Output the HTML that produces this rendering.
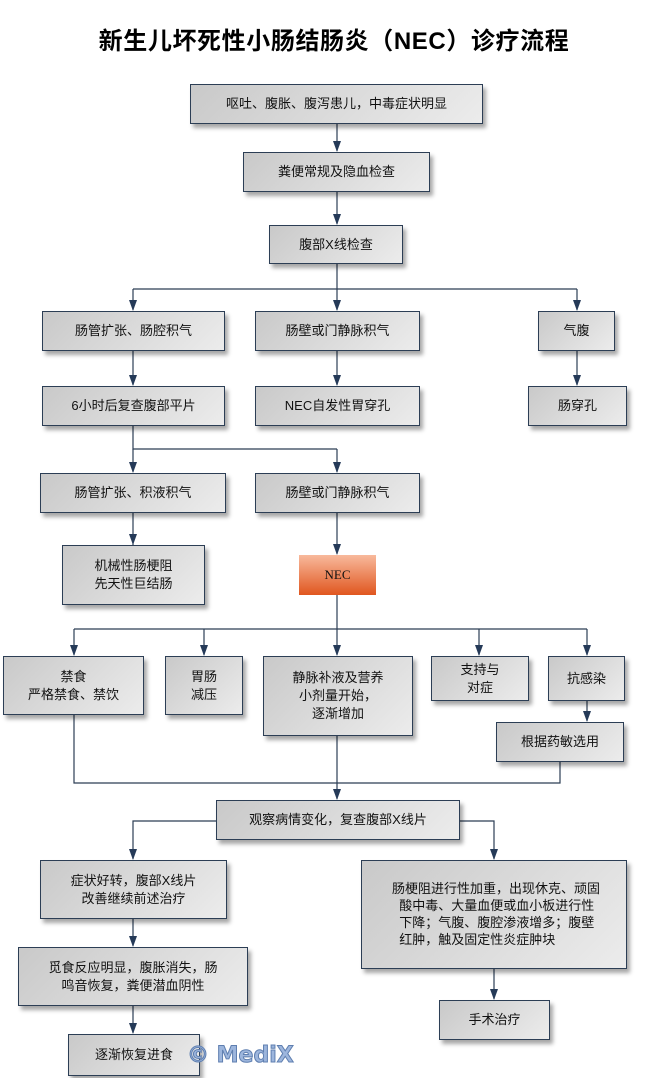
<!DOCTYPE html>
<html><head><meta charset="utf-8"><style>
body{margin:0;background:#fff;}
#c{position:relative;width:656px;height:1078px;overflow:hidden;font-family:"Liberation Sans","Noto Sans CJK SC","WenQuanYi Zen Hei",sans-serif;}
.b{position:absolute;box-sizing:border-box;border:1.5px solid #2c3e55;background:linear-gradient(135deg,#c9c9c9,#ececec);box-shadow:3px 4px 4px rgba(0,0,0,0.35);display:flex;align-items:center;justify-content:center;text-align:center;font-size:13px;line-height:18px;color:#111;}
.nec{border:none;background:linear-gradient(180deg,#f8b99c,#e0561f);box-shadow:none;font-family:"Liberation Serif",serif;}
h1{position:absolute;left:0;width:668px;top:21px;margin:0;text-align:center;font-size:24px;font-weight:bold;letter-spacing:0.6px;}
svg{position:absolute;left:0;top:0;}
#wm{position:absolute;left:187px;top:1043px;font-size:22px;font-weight:bold;color:#9db6dd;-webkit-text-stroke:1px #5f7fb0;font-family:"DejaVu Sans",sans-serif;}
</style></head><body><div id="c">
<h1>新生儿坏死性小肠结肠炎（NEC）诊疗流程</h1>
<svg width="656" height="1078">
<g stroke="#2c3e55" stroke-width="1.2" fill="none">
<path d="M337,124 V151"/>
<path d="M337,192 V224"/>
<path d="M337,264 V289"/>
<path d="M133,289 H577"/>
<path d="M133,289 V310"/>
<path d="M337,289 V310"/>
<path d="M577,289 V310"/>
<path d="M133,351 V385"/>
<path d="M337,351 V385"/>
<path d="M577,351 V385"/>
<path d="M133,426 V449 H337"/>
<path d="M133,449 V472"/>
<path d="M337,449 V472"/>
<path d="M133,513 V545"/>
<path d="M337,513 V554"/>
<path d="M337,595 V629"/>
<path d="M74,629 H587"/>
<path d="M74,629 V655"/>
<path d="M204,629 V655"/>
<path d="M337,629 V655"/>
<path d="M479,629 V655"/>
<path d="M587,629 V655"/>
<path d="M587,701 V721"/>
<path d="M74,715 V783 H560 V762"/>
<path d="M337,736 V799"/>
<path d="M216,821 H133 V859"/>
<path d="M460,821 H494 V859"/>
<path d="M133,919 V946"/>
<path d="M133,1006 V1033"/>
<path d="M494,969 V999"/>
</g>
<g fill="#253a58">
<polygon points="333,141 341,141 337,152"/>
<polygon points="333,214 341,214 337,225"/>
<polygon points="129,300 137,300 133,311"/>
<polygon points="333,300 341,300 337,311"/>
<polygon points="573,300 581,300 577,311"/>
<polygon points="129,375 137,375 133,386"/>
<polygon points="333,375 341,375 337,386"/>
<polygon points="573,375 581,375 577,386"/>
<polygon points="129,462 137,462 133,473"/>
<polygon points="333,462 341,462 337,473"/>
<polygon points="129,534 137,534 133,545"/>
<polygon points="333,544 341,544 337,555"/>
<polygon points="70,645 78,645 74,656"/>
<polygon points="200,645 208,645 204,656"/>
<polygon points="333,645 341,645 337,656"/>
<polygon points="475,645 483,645 479,656"/>
<polygon points="583,645 591,645 587,656"/>
<polygon points="583,711 591,711 587,722"/>
<polygon points="333,789 341,789 337,800"/>
<polygon points="129,849 137,849 133,860"/>
<polygon points="490,849 498,849 494,860"/>
<polygon points="129,936 137,936 133,947"/>
<polygon points="129,1023 137,1023 133,1034"/>
<polygon points="490,989 498,989 494,1000"/>
</g></svg>
<div class="b" style="left:190px;top:84px;width:293px;height:40px">呕吐、腹胀、腹泻患儿，中毒症状明显</div>
<div class="b" style="left:243px;top:152px;width:187px;height:40px">粪便常规及隐血检查</div>
<div class="b" style="left:269px;top:225px;width:134px;height:39px">腹部X线检查</div>
<div class="b" style="left:42px;top:311px;width:183px;height:40px">肠管扩张、肠腔积气</div>
<div class="b" style="left:255px;top:311px;width:165px;height:40px">肠壁或门静脉积气</div>
<div class="b" style="left:538px;top:311px;width:77px;height:40px">气腹</div>
<div class="b" style="left:42px;top:386px;width:183px;height:40px">6小时后复查腹部平片</div>
<div class="b" style="left:255px;top:386px;width:165px;height:40px">NEC自发性胃穿孔</div>
<div class="b" style="left:528px;top:386px;width:99px;height:40px">肠穿孔</div>
<div class="b" style="left:40px;top:473px;width:186px;height:40px">肠管扩张、积液积气</div>
<div class="b" style="left:255px;top:473px;width:165px;height:40px">肠壁或门静脉积气</div>
<div class="b" style="left:62px;top:545px;width:143px;height:60px">机械性肠梗阻<br>先天性巨结肠</div>
<div class="b nec" style="left:299px;top:555px;width:77px;height:40px">NEC</div>
<div class="b" style="left:3px;top:656px;width:141px;height:59px">禁食<br>严格禁食、禁饮</div>
<div class="b" style="left:165px;top:656px;width:78px;height:59px">胃肠<br>减压</div>
<div class="b" style="left:263px;top:656px;width:150px;height:80px">静脉补液及营养<br>小剂量开始，<br>逐渐增加</div>
<div class="b" style="left:431px;top:656px;width:98px;height:45px">支持与<br>对症</div>
<div class="b" style="left:548px;top:656px;width:77px;height:45px">抗感染</div>
<div class="b" style="left:496px;top:722px;width:128px;height:40px">根据药敏选用</div>
<div class="b" style="left:216px;top:800px;width:244px;height:40px">观察病情变化，复查腹部X线片</div>
<div class="b" style="left:40px;top:860px;width:187px;height:59px">症状好转，腹部X线片<br>改善继续前述治疗</div>
<div class="b" style="left:18px;top:947px;width:230px;height:59px">觅食反应明显，腹胀消失，肠<br>鸣音恢复，粪便潜血阴性</div>
<div class="b" style="left:68px;top:1034px;width:132px;height:42px">逐渐恢复进食</div>
<div class="b" style="left:361px;top:860px;width:266px;height:109px;justify-content:flex-start;align-items:flex-start;text-align:left;padding:19px 0 0 30px;line-height:17px">肠梗阻进行性加重，出现休克、顽固<br>&nbsp;&nbsp;酸中毒、大量血便或血小板进行性<br>&nbsp;&nbsp;下降；气腹、腹腔渗液增多；腹壁<br>&nbsp;&nbsp;红肿，触及固定性炎症肿块</div>
<div class="b" style="left:439px;top:1000px;width:111px;height:40px">手术治疗</div>
<div id="wm">© MediX</div>
</div></body></html>
